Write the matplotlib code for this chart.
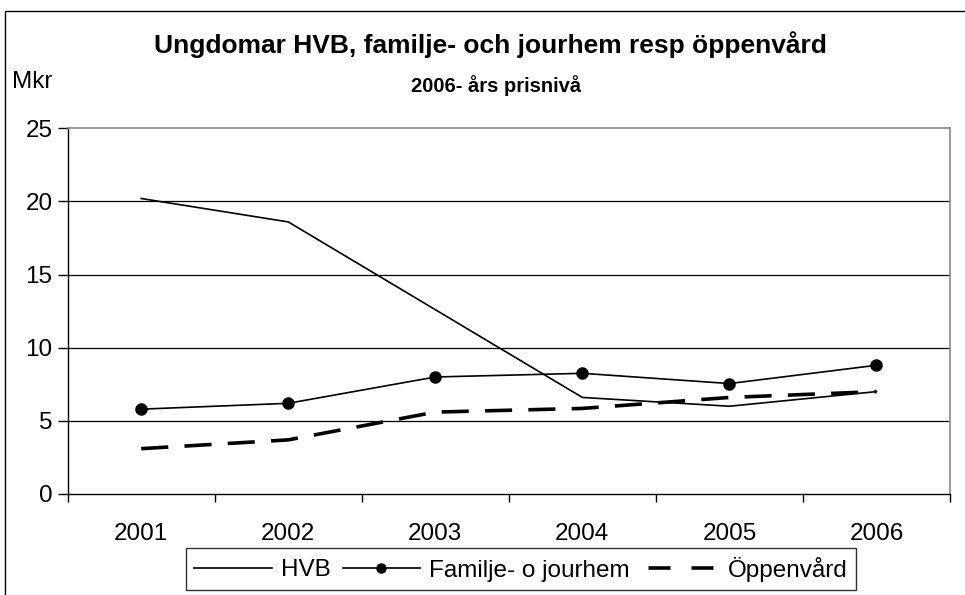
import matplotlib
matplotlib.use("Agg")
import matplotlib.pyplot as plt
from matplotlib.patches import Rectangle
from matplotlib.lines import Line2D

plt.rcParams['font.family'] = ['Liberation Sans', 'DejaVu Sans']

years = ["2001", "2002", "2003", "2004", "2005", "2006"]
hvb = [20.2, 18.6, 12.6, 6.6, 6.0, 7.0]
familje = [5.8, 6.2, 8.0, 8.25, 7.55, 8.8]
oppenvard = [3.1, 3.7, 5.6, 5.85, 6.6, 7.0]

title = "Ungdomar HVB, familje- och jourhem resp öppenvård"
subtitle = "2006- års prisnivå"
ylabel = "Mkr"
labels = ["HVB", "Familje- o jourhem", "Öppenvård"]
yticks = [0, 5, 10, 15, 20, 25]

W, H = 965, 595
fig = plt.figure(figsize=(W / 100, H / 100), dpi=100)
fig.patch.set_facecolor("white")

# outer chart frame (extends beyond the image on right/bottom)
fig.patches.append(Rectangle((5 / W, -0.05), 1.2, 1 - 11 / H + 0.05,
                             transform=fig.transFigure, fill=False,
                             edgecolor="black", linewidth=1.0))

l, r = 67.7 / W, 950 / W
b, t = 1 - 494 / H, 1 - 128.3 / H
ax = fig.add_axes([l, b, r - l, t - b])

x = list(range(len(years)))
ax.plot(x, hvb, color="black", lw=1.2, label=labels[0])
ax.plot(x, familje, color="black", lw=1.2, marker="o", markersize=8,
        label=labels[1])
ln, = ax.plot(x, oppenvard, color="black", lw=2.6, label=labels[2])
ln.set_dashes((7.5, 4.5))

ax.set_xlim(-0.5, len(years) - 0.5)
ax.set_ylim(0, 25)
ax.set_yticks(yticks)
ax.set_yticklabels([str(v) for v in yticks], fontsize=17.5)
ax.set_xticks(x)
ax.set_xticklabels(years, fontsize=17.5)
ax.tick_params(axis="x", length=0, pad=21)
ax.set_xticks([i - 0.5 for i in range(len(years) + 1)], minor=True)
ax.tick_params(axis="x", which="minor", length=6, direction="out", width=1)
ax.tick_params(axis="y", length=7, direction="out", width=1, pad=4)

for v in yticks[1:-1]:
    ax.axhline(v, color="black", lw=0.9, zorder=0)
ax.spines["top"].set_color("#888888")
ax.spines["right"].set_color("#888888")
for s in ("top", "right"):
    ax.spines[s].set_linewidth(1.2)
for s in ("left", "bottom"):
    ax.spines[s].set_linewidth(1.0)

fig.text(490 / W, 1 - 45 / H, title, fontsize=19, fontweight="bold",
         ha="center", va="center")
fig.text(496 / W, 1 - 86 / H, subtitle, fontsize=14.5, fontweight="bold",
         ha="center", va="center")
fig.text(12 / W, 1 - 82 / H, ylabel, fontsize=17.5, ha="left", va="center")

handles = [Line2D([], [], color="black", lw=1.2),
           Line2D([], [], color="black", lw=1.2, marker="o", markersize=6.5),
           Line2D([], [], color="black", lw=2.6,
                  linestyle=(10.1, (6.1, 5.8)))]
leg = fig.legend(handles, labels, loc="center", ncol=3,
                 bbox_to_anchor=(521 / W, 1 - 569 / H), fontsize=17.5,
                 frameon=True, fancybox=False, edgecolor="black",
                 handlelength=3.2, handletextpad=0.35, columnspacing=0.5,
                 borderpad=0.35, borderaxespad=0)
leg.get_frame().set_linewidth(1.0)

fig.savefig("out.png", dpi=100)
